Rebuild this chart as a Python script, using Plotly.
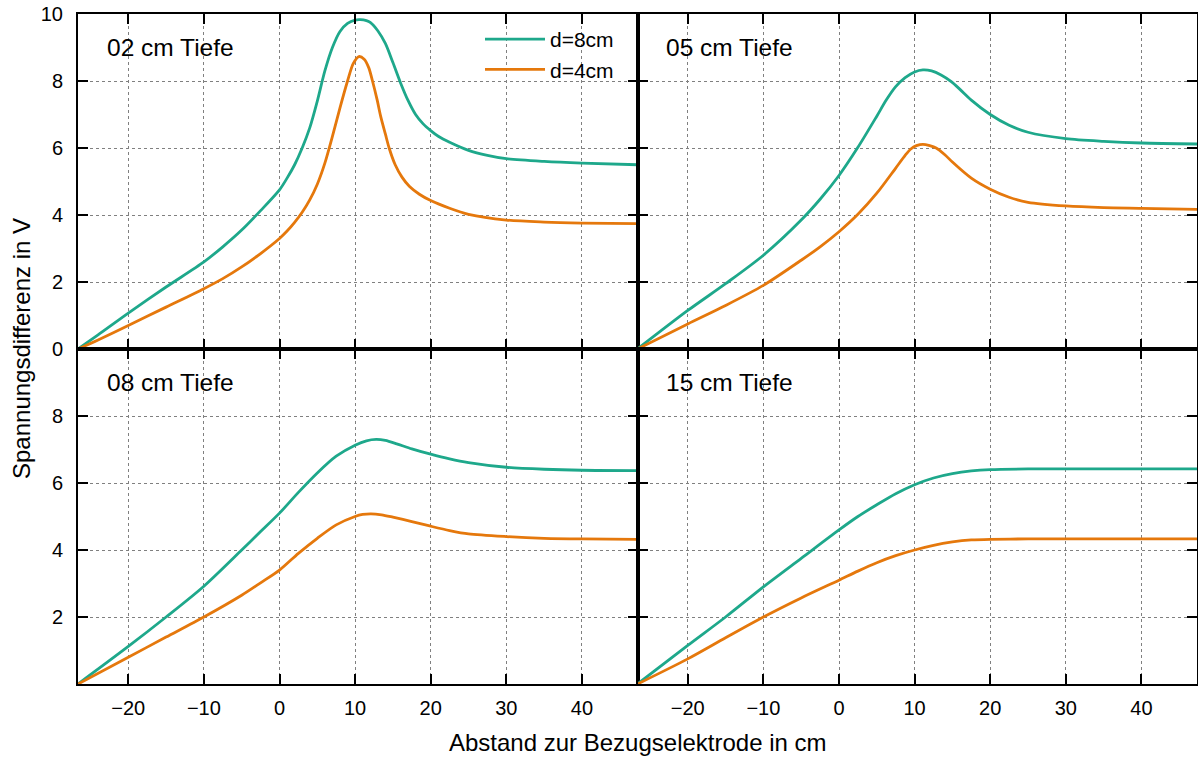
import plotly.graph_objects as go

# ---------------- data ----------------
# 02 cm Tiefe
x02_d8 = [-26.65, -24, -20, -15, -10, -7.5, -5, -2.5, 0, 1, 2, 3, 4, 5, 6, 7, 8, 9, 10, 10.7,
          11.5, 12, 13, 14, 15, 16, 17, 18, 19, 20, 21, 22.5, 25, 27.5, 30, 35, 40, 47.35]
y02_d8 = [0, 0.42, 1.07, 1.85, 2.6, 3.05, 3.55, 4.13, 4.75, 5.1, 5.5, 6.0, 6.6, 7.4, 8.3, 9.0,
          9.48, 9.72, 9.82, 9.83, 9.8, 9.75, 9.5, 9.12, 8.55, 7.95, 7.42, 7.0, 6.72, 6.52, 6.35,
          6.17, 5.93, 5.78, 5.68, 5.6, 5.55, 5.5]
x02_d4 = [-26.65, -24, -20, -15, -10, -7.5, -5, -2.5, 0, 1, 2, 3, 4, 5, 6, 7, 8, 9, 9.75, 10.5,
          11.2, 11.8, 12.3, 12.9, 13.4, 14.0, 14.5, 15.3, 16.2, 17.2, 18.5, 20, 22.5, 25, 30, 35,
          40, 47.35]
y02_d4 = [0, 0.27, 0.7, 1.25, 1.8, 2.1, 2.45, 2.85, 3.3, 3.52, 3.78, 4.08, 4.45, 4.92, 5.55,
          6.35, 7.2, 8.0, 8.52, 8.73, 8.65, 8.4, 8.0, 7.45, 6.93, 6.42, 6.0, 5.5, 5.13, 4.85,
          4.62, 4.43, 4.2, 4.02, 3.85, 3.79, 3.76, 3.74]

# 05 cm Tiefe
x05_d8 = [-26.65, -20, -15, -10, -5, -2.5, 0, 2.5, 5, 6.25, 7.5, 8.75, 10, 11.1, 12.25, 13.5,
          14.85, 16, 17.5, 20, 22.5, 25, 30, 35, 40, 47.35]
y05_d8 = [0, 1.15, 1.95, 2.8, 3.85, 4.47, 5.18, 6.02, 6.95, 7.43, 7.83, 8.1, 8.27, 8.33, 8.3, 8.18,
          7.98, 7.75, 7.43, 7.0, 6.68, 6.47, 6.28, 6.2, 6.15, 6.12]
x05_d4 = [-26.65, -20, -15, -10, -5, -2.5, 0, 2.5, 5, 7.5, 8.75, 9.5, 10.25, 11.1, 12.0, 12.85,
          14, 15, 17.5, 20, 22.5, 25, 30, 35, 40, 47.35]
y05_d4 = [0, 0.75, 1.3, 1.9, 2.65, 3.05, 3.5, 4.02, 4.65, 5.4, 5.78, 5.97, 6.07, 6.11, 6.07, 6.0,
          5.8, 5.58, 5.1, 4.77, 4.53, 4.38, 4.27, 4.22, 4.2, 4.17]

# 08 cm Tiefe
x08_d8 = [-26.65, -20, -15, -10, -5, -2.5, 0, 2.5, 5, 7.5, 10, 11.5, 12.8, 14, 15.5, 17.5, 20,
          22.5, 25, 30, 35, 40, 47.35]
y08_d8 = [0, 1.12, 2.0, 2.92, 4.0, 4.55, 5.1, 5.72, 6.3, 6.8, 7.13, 7.26, 7.3, 7.27, 7.17, 7.02,
          6.86, 6.72, 6.61, 6.47, 6.41, 6.38, 6.37]
x08_d4 = [-26.65, -20, -15, -10, -5, -2.5, 0, 2.5, 5, 7.5, 10, 11, 12.1, 13.5, 15, 17.5, 20, 22.5,
          25, 30, 35, 40, 47.35]
y08_d4 = [0, 0.8, 1.4, 2.0, 2.65, 3.02, 3.4, 3.9, 4.35, 4.75, 5.0, 5.06, 5.08, 5.05, 4.98, 4.85,
          4.71, 4.58, 4.48, 4.4, 4.35, 4.33, 4.32]

# 15 cm Tiefe
x15 = [-26.65, -20, -15, -10, -5, 0, 2.5, 5, 7.5, 10, 12.5, 15, 17.5, 20, 25, 30, 40, 47.35]
y15_d8 = [0, 1.15, 2.0, 2.9, 3.75, 4.6, 5.0, 5.35, 5.68, 5.95, 6.15, 6.28, 6.36, 6.4, 6.42, 6.42,
          6.42, 6.42]
y15_d4 = [0, 0.75, 1.38, 2.0, 2.57, 3.1, 3.37, 3.62, 3.83, 4.0, 4.14, 4.24, 4.3, 4.32, 4.33, 4.33,
          4.33, 4.33]

panel_labels = ["02 cm Tiefe", "05 cm Tiefe", "08 cm Tiefe", "15 cm Tiefe"]
series_names = ["d=8cm", "d=4cm"]
x_ticks = [-20, -10, 0, 10, 20, 30, 40]
y_ticks_top = [0, 2, 4, 6, 8, 10]
y_ticks_bottom = [2, 4, 6, 8]
x_range = [-26.65, 47.35]
y_range = [0, 10]

# ---------------- figure ----------------
FONT = "Liberation Sans, Arial, Helvetica, sans-serif"
C8 = "#1ea88b"
C4 = "#e5780c"

panels = [
    (x02_d8, y02_d8, x02_d4, y02_d4),
    (x05_d8, y05_d8, x05_d4, y05_d4),
    (x08_d8, y08_d8, x08_d4, y08_d4),
    (x15, y15_d8, x15, y15_d4),
]
axis_ids = [("x", "y"), ("x2", "y2"), ("x3", "y3"), ("x4", "y4")]

fig = go.Figure()
for i, (xa, ya, xb, yb) in enumerate(panels):
    xr, yr = axis_ids[i]
    fig.add_trace(go.Scatter(x=xa, y=ya, mode="lines", name=series_names[0],
                             line=dict(color=C8, width=2.8, shape="spline", smoothing=0.8),
                             xaxis=xr, yaxis=yr, showlegend=(i == 0)))
    fig.add_trace(go.Scatter(x=xb, y=yb, mode="lines", name=series_names[1],
                             line=dict(color=C4, width=2.8, shape="spline", smoothing=0.8),
                             xaxis=xr, yaxis=yr, showlegend=(i == 0)))

common = dict(showline=True, linecolor="black", linewidth=2, mirror="allticks",
              ticks="inside", ticklen=10, tickwidth=2, tickcolor="black",
              showgrid=True, gridcolor="#808080", gridwidth=1, griddash="dot",
              zeroline=False, automargin=False,
              tickfont=dict(family=FONT, size=20, color="black"))

xdom = [[0, 0.5], [0.5, 1], [0, 0.5], [0.5, 1]]
ydom = [[0.5, 1], [0.5, 1], [0, 0.5], [0, 0.5]]
layout_axes = {}
for i in range(4):
    xn = "xaxis" if i == 0 else f"xaxis{i+1}"
    yn = "yaxis" if i == 0 else f"yaxis{i+1}"
    yid = "y" if i == 0 else f"y{i+1}"
    xid = "x" if i == 0 else f"x{i+1}"
    layout_axes[xn] = dict(common, domain=xdom[i], range=x_range, tickvals=x_ticks,
                           showticklabels=(i >= 2), anchor=yid, ticklabelstandoff=5)
    layout_axes[yn] = dict(common, domain=ydom[i], range=y_range,
                           tickvals=(y_ticks_top if i < 2 else y_ticks_bottom),
                           showticklabels=(i % 2 == 0), anchor=xid, ticklabelstandoff=9)

fig.update_layout(**layout_axes)

annotations = []
for i, lab in enumerate(panel_labels):
    xr = "x domain" if i == 0 else f"x{i+1} domain"
    yr = "y domain" if i == 0 else f"y{i+1} domain"
    annotations.append(dict(text=lab, xref=xr, yref=yr, x=0.048, y=0.899,
                            xanchor="left", yanchor="middle", showarrow=False,
                            font=dict(family=FONT, size=24.5, color="black")))
annotations.append(dict(text="Abstand zur Bezugselektrode in cm", xref="paper", yref="paper",
                        x=0.5, y=-58 / 670, xanchor="center", yanchor="middle", showarrow=False,
                        font=dict(family=FONT, size=24, color="black")))
annotations.append(dict(text="Spannungsdifferenz in V", xref="paper", yref="paper",
                        x=(21 - 78) / 1119, y=0.5, xanchor="center", yanchor="middle",
                        textangle=-90, showarrow=False,
                        font=dict(family=FONT, size=24, color="black")))

fig.update_layout(
    width=1198, height=757,
    margin=dict(l=78, r=1, t=14, b=73, autoexpand=False),
    paper_bgcolor="white", plot_bgcolor="white",
    font=dict(family=FONT, size=20, color="black"),
    annotations=annotations,
    legend=dict(x=(480 - 78) / 1119, y=1 - 5 / 670, xanchor="left", yanchor="top",
                bgcolor="rgba(0,0,0,0)",
                font=dict(family=FONT, size=21, color="black"), itemwidth=60,
                tracegroupgap=0),
)

fig.write_html(
    "out.html",
    config={"displayModeBar": False},
    post_script="document.body.style.margin='0';document.body.style.overflow='hidden';",
)
